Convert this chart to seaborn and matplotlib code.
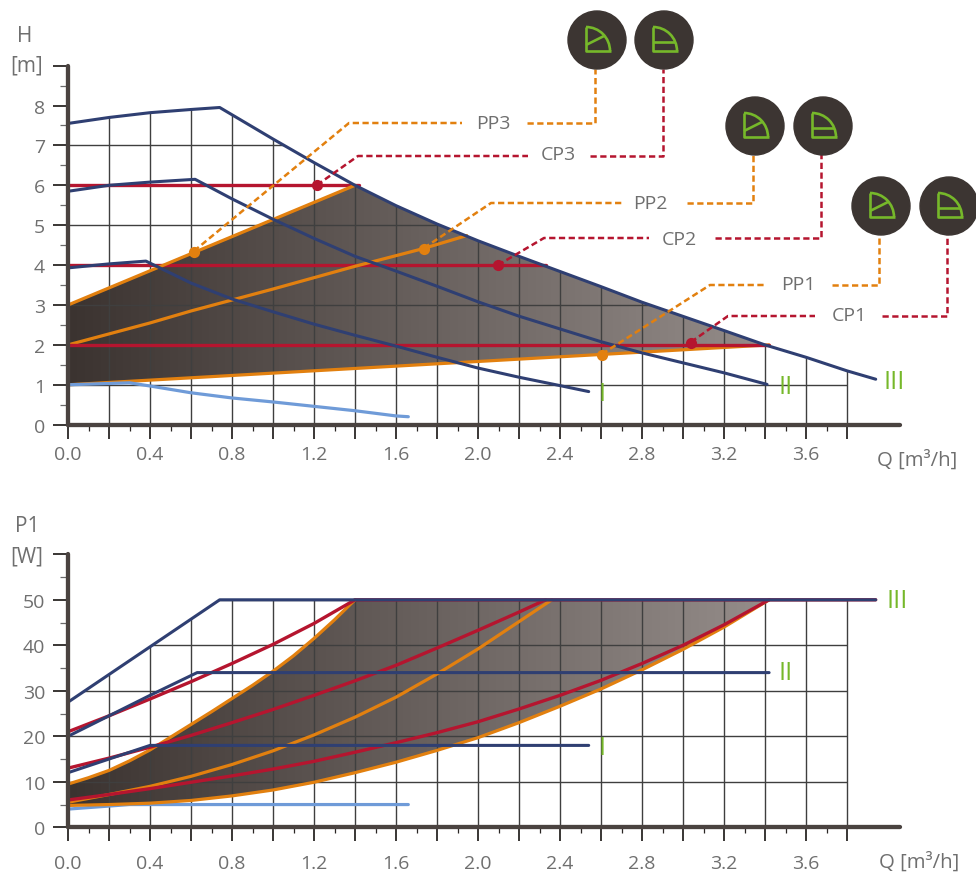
import numpy as np
import matplotlib
matplotlib.use('Agg')
import matplotlib.pyplot as plt
from matplotlib.colors import LinearSegmentedColormap
from matplotlib.patches import Polygon, Circle, Arc
import seaborn as sns

NAVY = '#2f3f72'
RED = '#b5152f'
ORANGE = '#e2800f'
SKY = '#6f9bd8'
DARK = '#3c3532'
AXIS = '#4a4340'
GREY = '#6f6f6f'
GREEN = '#76b82a'

# H(Q) curves, top chart
h3_q = [0, 0.2, 0.4, 0.6, 0.74, 1.0, 1.2, 1.4, 1.6, 1.8, 2.0, 2.2, 2.4, 2.6, 2.8, 3.2, 3.4, 3.6, 3.8, 3.94]
h3_h = [7.55, 7.7, 7.82, 7.9, 7.95, 7.16, 6.57, 6.0, 5.49, 5.03, 4.61, 4.22, 3.84, 3.46, 3.07, 2.36, 2.0, 1.69, 1.35, 1.14]
h2_q = [0, 0.2, 0.4, 0.62, 0.8, 1.0, 1.2, 1.4, 1.6, 1.8, 2.0, 2.2, 2.4, 2.6, 2.8, 3.0, 3.2, 3.41]
h2_h = [5.85, 6.0, 6.08, 6.15, 5.66, 5.15, 4.67, 4.22, 3.85, 3.47, 3.08, 2.72, 2.4, 2.08, 1.8, 1.55, 1.3, 1.01]
h1_q = [0, 0.2, 0.38, 0.6, 0.8, 1.0, 1.2, 1.4, 1.6, 1.8, 2.0, 2.2, 2.4, 2.54]
h1_h = [3.93, 4.03, 4.1, 3.55, 3.15, 2.83, 2.52, 2.24, 1.97, 1.69, 1.42, 1.19, 0.98, 0.83]
h0_q = [0, 0.3, 0.4, 0.6, 0.8, 1.0, 1.2, 1.4, 1.6, 1.66]
h0_h = [1.0, 1.05, 0.97, 0.8, 0.67, 0.57, 0.46, 0.35, 0.22, 0.2]

pp3_q = [0, 1.4]
pp3_h = [3, 6]
pp2_q = [0, 0.4, 0.6, 1.0, 1.4, 1.73, 1.945]
pp2_h = [2, 2.55, 2.85, 3.4, 3.97, 4.41, 4.74]
pp1_q = [0, 3.42]
pp1_h = [1, 2]
cp3_q = [0, 1.42]
cp3_h = [6, 6]
cp2_q = [0, 2.33]
cp2_h = [4, 4]
cp1_q = [0, 3.42]
cp1_h = [2, 2]

# operating points
pp_dot_q = [0.616, 1.735, 2.605]
pp_dot_h = [4.335, 4.41, 1.75]
cp_dot_q = [1.216, 2.098, 3.04]
cp_dot_h = [6.0, 3.99, 2.06]

# P1(Q) curves, bottom chart
p3_q = [0, 0.74, 3.94]
p3_w = [27.5, 50, 50]
p2_q = [0, 0.2, 0.4, 0.63, 3.42]
p2_w = [20, 24.5, 29, 34, 34]
p1_q = [0, 0.2, 0.4, 2.54]
p1_w = [12, 15, 18, 18]
p0_q = [0, 0.3, 1.66]
p0_w = [4, 5, 5]

pcp3_q = [0, 0.2, 0.4, 0.6, 0.8, 1.0, 1.2, 1.4, 3.94]
pcp3_w = [21, 24.5, 28.2, 32, 36, 40.2, 44.8, 50, 50]
pcp2_q = [0, 0.2, 0.4, 0.6, 0.8, 1.0, 1.2, 1.4, 1.6, 1.8, 2.0, 2.2, 2.33]
pcp2_w = [13, 15.2, 17.6, 20.2, 23, 25.9, 29, 32.2, 35.6, 39.4, 43.3, 47.3, 50]
pcp1_q = [0, 0.2, 0.4, 0.6, 0.8, 1.0, 1.2, 1.4, 1.6, 1.8, 2.0, 2.2, 2.4, 2.6, 2.8, 3.0, 3.2, 3.42]
pcp1_w = [6, 7.2, 8.5, 9.9, 11.3, 12.8, 14.5, 16.5, 18.6, 20.8, 23.2, 26, 29, 32.3, 36, 40, 44.5, 50]

ppp3_q = [0, 0.1, 0.2, 0.3, 0.4, 0.5, 0.6, 0.7, 0.8, 0.9, 1.0, 1.1, 1.2, 1.3, 1.4]
ppp3_w = [9.5, 10.9, 12.5, 14.6, 17, 19.8, 22.6, 25.4, 28.3, 31.2, 34.3, 37.7, 41.5, 45.6, 50]
ppp2_q = [0, 0.2, 0.4, 0.6, 0.8, 1.0, 1.2, 1.4, 1.6, 1.8, 2.0, 2.2, 2.36]
ppp2_w = [5.5, 7.2, 9, 11.2, 13.8, 16.8, 20.3, 24.2, 28.6, 33.7, 39.2, 45.2, 50]
ppp1_q = [0, 0.2, 0.4, 0.6, 0.8, 1.0, 1.2, 1.4, 1.6, 1.8, 2.0, 2.2, 2.4, 2.6, 2.8, 3.0, 3.2, 3.42]
ppp1_w = [4.8, 5, 5.3, 5.9, 6.9, 8.2, 9.9, 12, 14.3, 16.9, 19.7, 23, 26.6, 30.4, 34.6, 39.1, 44, 50]

# axis ticks
q_ticks = [0.2 * i for i in range(20)]
q_labels = ['%.1f' % (0.2 * i) if i % 2 == 0 else '' for i in range(20)]
h_ticks = [0, 1, 2, 3, 4, 5, 6, 7, 8, 9]
h_labels = ['0', '1', '2', '3', '4', '5', '6', '7', '8', '']
w_ticks = [0, 10, 20, 30, 40, 50, 60]
w_labels = ['0', '10', '20', '30', '40', '50', '']

# callouts, in figure pixels
pp_leaders = [
    ([194, 349, 462], [252, 124, 124]), ([527, 595, 595], [124, 124, 70]),
    ([424, 491, 622], [249, 204, 204]), ([687, 753, 753], [204, 204, 155]),
    ([602, 710, 767], [355, 286, 286]), ([832, 879, 879], [286, 286, 235]),
]
cp_leaders = [
    ([317, 358, 528], [186, 157, 157]), ([590, 663, 663], [157, 157, 70]),
    ([498, 544, 649], [266, 239, 239]), ([715, 821, 821], [239, 239, 155]),
    ([691, 728, 815], [343, 317, 317]), ([882, 947, 947], [317, 317, 235]),
]
callout_names = ['PP3', 'CP3', 'PP2', 'CP2', 'PP1', 'CP1']
callout_x = [493, 558, 650, 679, 798, 849]
callout_y = [124, 155, 204, 240, 285, 316]
pp_icons = [(597, 41), (755, 127), (881, 207)]
cp_icons = [(664, 41), (823, 127), (949, 207)]
roman_text = ['III', 'II', 'I', 'III', 'II', 'I']
roman_x = [894, 786, 602, 897, 786, 602]
roman_y = [383, 388, 395, 602, 674, 749]

sns.set_theme(style='ticks')
plt.rcParams['font.family'] = ['Open Sans', 'DejaVu Sans']

fig = plt.figure(figsize=(9.76, 8.79), dpi=100)
W, H = 976.0, 879.0
ax_h = fig.add_axes([68 / W, 1 - 425.7 / H, 832 / W, 359.1 / H])
ax_p = fig.add_axes([68 / W, 1 - 828.3 / H, 832 / W, 273 / H])


def curve(ax, q, v, color, lw=2.2):
    sns.lineplot(x=q, y=v, ax=ax, color=color, linewidth=lw, sort=False,
                 estimator=None, legend=False, zorder=4)


def background(ax, fill_xy, grid_xy, ymax, yticks):
    # gradient field between the curves
    cmap = LinearSegmentedColormap.from_list('field', ['#3b3330', '#958d8a'])
    img = ax.imshow(np.linspace(0, 1, 256).reshape(1, -1), extent=[0, 3.42, 0, ymax],
                    aspect='auto', cmap=cmap, zorder=1)
    patch = Polygon(fill_xy, transform=ax.transData, fill=False, edgecolor='none')
    ax.add_patch(patch)
    img.set_clip_path(patch)
    # grid stops at the outer curve
    clip = Polygon(grid_xy, transform=ax.transData, fill=False, edgecolor='none')
    ax.add_patch(clip)
    v = ax.vlines(q_ticks[1:], 0, ymax, color='#3f3f3f', linewidth=1.0, zorder=2)
    h = ax.hlines(yticks, 0, 3.8, color='#3f3f3f', linewidth=1.0, zorder=2)
    v.set_clip_path(clip)
    h.set_clip_path(clip)


def style_axis(ax, ymax, yticks, ylabels, yminor, pad):
    ax.set_xlim(0, 832 / 205)
    ax.set_ylim(0, ymax)
    ax.set_xticks(q_ticks)
    ax.set_xticklabels(q_labels)
    ax.set_xticks([0.1 + 0.2 * i for i in range(19)], minor=True)
    ax.set_yticks(yticks)
    ax.set_yticklabels(ylabels)
    ax.set_yticks(yminor, minor=True)
    ax.tick_params(axis='x', which='major', length=10, width=1.3, color='#2a2624',
                   labelsize=14, labelcolor=GREY, pad=pad)
    ax.tick_params(axis='y', which='major', length=10.5, width=1.3, color='#2a2624',
                   labelsize=14, labelcolor=GREY, pad=6)
    ax.tick_params(axis='x', which='minor', length=4, width=0.9, color='#2a2624')
    ax.tick_params(axis='y', which='minor', length=6, width=0.9, color='#6a6a6a')
    ax.patch.set_alpha(0)
    sns.despine(ax=ax)
    for side in ['left', 'bottom']:
        ax.spines[side].set_linewidth(3.1)
        ax.spines[side].set_color(AXIS)
        ax.spines[side].set_capstyle('round')
        ax.spines[side].set_zorder(6)


# top chart
fill_top = list(zip(pp3_q, pp3_h)) + [(q, v) for q, v in zip(h3_q, h3_h) if 1.4 < q <= 3.4] + [(3.42, 2), (0, 1)]
grid_top = [(0, 0)] + [(q, v) for q, v in zip(h3_q, h3_h) if q <= 3.8] + [(3.81, 1.33), (3.81, 0)]
background(ax_h, fill_top, grid_top, 9, [1, 2, 3, 4, 5, 6, 7])

for q, v in [(cp3_q, cp3_h), (cp2_q, cp2_h)]:
    curve(ax_h, q, v, RED, 2.4)
for q, v in [(pp3_q, pp3_h), (pp2_q, pp2_h), (pp1_q, pp1_h)]:
    curve(ax_h, q, v, ORANGE, 2.3)
curve(ax_h, cp1_q, cp1_h, RED, 2.4)
curve(ax_h, h0_q, h0_h, SKY, 2.3)
for q, v in [(h3_q, h3_h), (h2_q, h2_h), (h1_q, h1_h)]:
    curve(ax_h, q, v, NAVY)
sns.scatterplot(x=pp_dot_q, y=pp_dot_h, ax=ax_h, color=ORANGE, s=65, linewidth=0, zorder=5)
sns.scatterplot(x=cp_dot_q, y=cp_dot_h, ax=ax_h, color=RED, s=65, linewidth=0, zorder=5)
style_axis(ax_h, 9, h_ticks, h_labels, [0.5 + i for i in range(9)], 4.5)

# bottom chart
fill_bot = list(zip(ppp3_q, ppp3_w)) + [(3.42, 50)] + list(zip(ppp1_q, ppp1_w))[::-1]
grid_bot = [(0, 0), (0, 27.5), (0.74, 50), (3.81, 50), (3.81, 0)]
background(ax_p, fill_bot, grid_bot, 60, [10, 20, 30, 40, 50])

curve(ax_p, p0_q, p0_w, SKY, 2.3)
for q, v in [(ppp3_q, ppp3_w), (ppp2_q, ppp2_w), (ppp1_q, ppp1_w)]:
    curve(ax_p, q, v, ORANGE, 2.3)
for q, v in [(pcp3_q, pcp3_w), (pcp2_q, pcp2_w), (pcp1_q, pcp1_w)]:
    curve(ax_p, q, v, RED, 2.4)
for q, v in [(p3_q, p3_w), (p2_q, p2_w), (p1_q, p1_w)]:
    curve(ax_p, q, v, NAVY)
style_axis(ax_p, 60, w_ticks, w_labels, [5 + 10 * i for i in range(6)], 9.5)

# overlay in pixels for callouts and labels
over = fig.add_axes([0, 0, 1, 1], zorder=10)
over.set_xlim(0, W)
over.set_ylim(H, 0)
over.axis('off')

for xs, ys in pp_leaders:
    over.plot(xs, ys, color=ORANGE, linewidth=1.8, linestyle=(0, (2.5, 1.4)))
for xs, ys in cp_leaders:
    over.plot(xs, ys, color=RED, linewidth=1.8, linestyle=(0, (2.5, 1.4)))


def icon(cx, cy, proportional):
    over.add_patch(Circle((cx, cy), 29, color=DARK, zorder=3))
    kw = dict(color=GREEN, linewidth=1.9, solid_capstyle='butt', zorder=4)
    over.plot([cx - 11, cx - 11, cx + 14], [cy - 13, cy + 11, cy + 11], **kw)
    over.add_patch(Arc((cx - 11, cy + 11), 48, 48, theta1=270, theta2=360,
                       color=GREEN, linewidth=1.9, zorder=4))
    if proportional:
        over.plot([cx - 11, cx + 7], [cy + 5, cy - 4], **kw)
    else:
        over.plot([cx - 11, cx + 11], [cy + 1.5, cy + 1.5], **kw)


for cx, cy in pp_icons:
    icon(cx, cy, True)
for cx, cy in cp_icons:
    icon(cx, cy, False)

for name, x, y in zip(callout_names, callout_x, callout_y):
    over.text(x, y, name, color=GREY, fontsize=14, ha='center', va='center')
for name, x, y in zip(roman_text, roman_x, roman_y):
    over.text(x, y, name, color=GREEN, fontsize=18, ha='center', va='center')

over.text(25, 37, 'H', color=GREY, fontsize=15, ha='center', va='center')
over.text(27, 66, '[m]', color=GREY, fontsize=15, ha='center', va='center')
over.text(27, 527, 'P1', color=GREY, fontsize=15, ha='center', va='center')
over.text(27, 557, '[W]', color=GREY, fontsize=15, ha='center', va='center')
over.text(917, 461, 'Q [m³/h]', color=GREY, fontsize=14.7, ha='center', va='center')
over.text(919, 863, 'Q [m³/h]', color=GREY, fontsize=14.7, ha='center', va='center')

fig.savefig('out.png', dpi=100, facecolor='white')
